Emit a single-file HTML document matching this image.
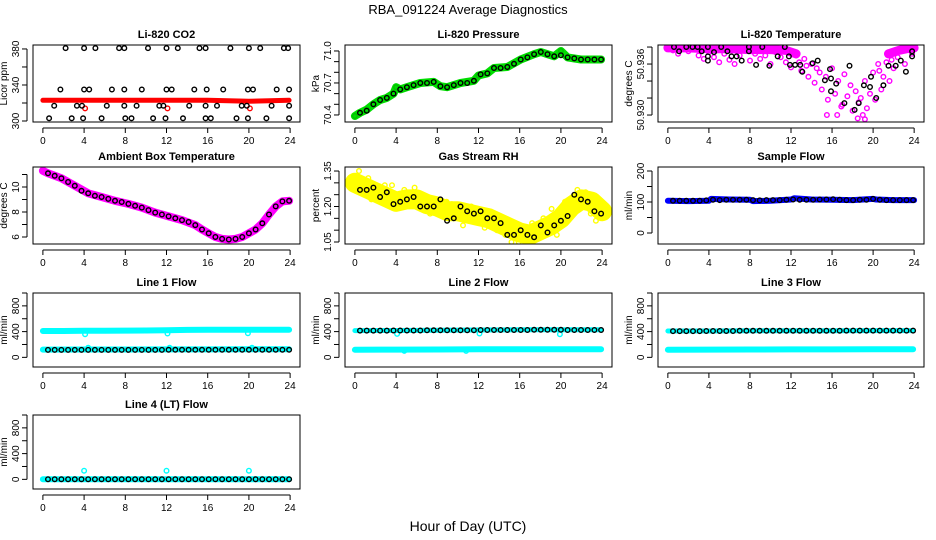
<!DOCTYPE html>
<html><head><meta charset="utf-8"><style>
html,body{margin:0;padding:0;background:#fff;}
svg{display:block;font-family:"Liberation Sans",sans-serif;}
</style></head><body>
<svg id="chart" width="936" height="540" viewBox="0 0 936 540" xmlns="http://www.w3.org/2000/svg">
<text x="468" y="14" font-size="13" text-anchor="middle">RBA_091224  Average Diagnostics</text>
<text x="468" y="531" font-size="14" text-anchor="middle">Hour of Day (UTC)</text>
</svg>
<script>
const hours = [0.5,1.15,1.8,2.45,3.1,3.75,4.4,5.05,5.7,6.35,7.0,7.65,8.3,8.95,9.6,10.25,10.9,11.55,12.2,12.85,13.5,14.15,14.8,15.45,16.1,16.75,17.4,18.05,18.7,19.35,20.0,20.65,21.3,21.95,22.6,23.25,23.9];
const xTicks = [0,4,8,12,16,20,24];

const co2Hours = [0.6,1.1,1.7,2.2,2.8,3.3,3.8,3.9,4.0,4.0,4.5,5.1,5.7,6.2,6.7,7.4,7.9,7.9,7.9,8.0,8.6,9.1,9.6,10.2,10.7,11.3,11.7,12.0,11.9,12.0,12.5,13.1,13.6,14.2,14.7,15.2,15.8,15.8,15.8,15.9,16.3,16.9,17.5,18.2,18.8,19.3,19.8,19.9,20.0,19.9,20.4,21.1,21.7,22.2,22.7,23.4,23.8,23.9,23.9,23.9];
const co2Vals = [303,317,335,381,303,317,317,303,381,335,335,381,303,317,335,381,381,335,317,303,303,317,335,381,303,317,317,381,303,335,335,381,303,317,335,381,381,303,317,335,303,317,335,381,303,317,317,303,381,335,335,381,303,317,335,381,381,335,317,303];
const co2RedHours = [0,4,8,12,16,20,23.9];
const co2RedVals = [323,323,323,323,323,322,323];
const co2DipHours = [4.1,12.1,20.1];
const co2DipVals = [314,314,314];

const pressVals = [70.42,70.44,70.50,70.54,70.56,70.60,70.64,70.66,70.68,70.70,70.70,70.71,70.67,70.66,70.68,70.70,70.70,70.72,70.78,70.79,70.84,70.84,70.85,70.88,70.92,70.94,70.97,70.99,70.97,70.95,70.96,70.94,70.93,70.92,70.92,70.92,70.92];
const pressBandHours = [0,0.5,1.15,1.8,2.45,3.1,3.75,4.0,4.4,5.05,6.35,7.65,8.3,8.95,10.25,11.55,12.0,12.85,13.5,14.8,16.1,17.4,18.05,18.7,19.35,20.0,20.65,21.95,23.25,23.9];
const pressBandVals = [70.39,70.42,70.45,70.50,70.54,70.56,70.60,70.66,70.64,70.66,70.70,70.71,70.67,70.66,70.70,70.72,70.77,70.79,70.84,70.85,70.92,70.97,70.99,70.97,70.95,71.00,70.94,70.92,70.92,70.92];

const tempBlackHours = [0.6,1.1,1.8,2.4,2.9,3.3,3.9,3.9,3.9,4.5,5.2,5.8,6.2,6.7,7.2,7.9,7.9,8.6,9.2,9.9,10.7,11.4,11.8,11.9,12.4,12.9,13.1,14.1,14.6,15.3,15.8,15.9,15.9,16.4,17.2,17.7,18.2,18.6,19.1,19.7,19.8,20.3,21.0,21.5,22.2,22.7,23.2,23.8,23.8];
const tempBlackVals = [50.9380,50.9375,50.9380,50.9380,50.9380,50.9375,50.9380,50.9369,50.9364,50.9374,50.9380,50.9375,50.9369,50.9369,50.9364,50.9380,50.9375,50.9359,50.9380,50.9358,50.9369,50.9380,50.9369,50.9359,50.9359,50.9359,50.9351,50.9361,50.9364,50.9341,50.9354,50.9343,50.9328,50.9337,50.9314,50.9358,50.9306,50.9314,50.9335,50.9333,50.9345,50.9320,50.9335,50.9358,50.9358,50.9364,50.9351,50.9375,50.9369];
const tempMagHours = [0.2,0.5,1,1.5,2,2.5,3,3.5,4,4.5,5,5.5,6,6.5,7,7.5,8,8.5,9,9.5,10,10.5,11,11.5,12,12.5,13,13.3,13.7,14,14.3,14.8,15,15.4,15.6,16,16.3,16.6,16.9,17.2,17.5,17.8,18,18.3,18.6,19,19.2,19.4,19.7,20,20.2,20.5,20.8,21,21.3,21.6,22,22.4,22.8,23.1,23.5,23.8,24,15.5,16.5,18.5,19.2,12.8,13.5,14.5,17,18.8,20.6,21.8];
const tempMagVals = [50.9380,50.9376,50.9372,50.9378,50.9375,50.9380,50.9370,50.9366,50.9374,50.9368,50.9362,50.9372,50.9365,50.9360,50.9370,50.9376,50.9364,50.9372,50.9366,50.9370,50.9360,50.9374,50.9368,50.9362,50.9356,50.9370,50.9352,50.9366,50.9345,50.9360,50.9338,50.9350,50.9330,50.9345,50.9318,50.9355,50.9325,50.9340,50.9310,50.9348,50.9322,50.9335,50.9305,50.9328,50.9315,50.9300,50.9340,50.9308,50.9325,50.9350,50.9318,50.9360,50.9330,50.9345,50.9362,50.9340,50.9355,50.9368,50.9375,50.9360,50.9380,50.9372,50.9378,50.9300,50.9300,50.9296,50.9295,50.9362,50.9358,50.9355,50.9312,50.9320,50.9352,50.9365];
const tempBandHours = [0,2,4,6,8,10,11.5,12.5];
const tempBandVals = [50.9379,50.9379,50.9378,50.9378,50.9377,50.9377,50.9376,50.9372];
const tempBand2Hours = [21.5,22.5,23.3,24];
const tempBand2Vals = [50.9372,50.9376,50.9378,50.9379];

const ambVals = [11.1,10.9,10.7,10.4,10.1,9.7,9.5,9.3,9.2,9.05,8.9,8.8,8.65,8.5,8.35,8.15,7.95,7.8,7.65,7.5,7.35,7.2,6.95,6.6,6.3,6.0,5.85,5.8,5.85,6.0,6.3,6.6,7.1,7.8,8.45,8.85,8.9];
const ambBandHours = [0,0.5,1.8,3.1,4.4,5.7,7.0,8.3,9.6,10.9,12.2,13.5,14.8,15.45,16.1,16.75,17.4,18.05,18.7,19.35,20.0,20.65,21.3,21.95,22.6,23.25,23.9];
const ambBandVals = [11.3,11.1,10.7,10.1,9.5,9.2,8.9,8.65,8.35,7.95,7.65,7.35,6.95,6.6,6.3,6.0,5.85,5.8,5.85,6.0,6.3,6.6,7.1,7.8,8.45,8.85,8.9];

const rhVals = [1.27,1.27,1.28,1.24,1.26,1.21,1.22,1.23,1.24,1.20,1.20,1.20,1.23,1.14,1.15,1.20,1.18,1.17,1.18,1.15,1.15,1.13,1.08,1.08,1.10,1.08,1.07,1.12,1.09,1.12,1.14,1.16,1.25,1.23,1.22,1.18,1.17];
const rhBandHours = [0,1,2,3,4,5,6,7,8,9,10,11,12,13,14,15,16,17,18,19,20,21,22,23,24];
const rhBandVals = [1.30,1.28,1.26,1.24,1.22,1.23,1.23,1.21,1.20,1.18,1.18,1.17,1.16,1.15,1.13,1.11,1.09,1.08,1.10,1.12,1.15,1.20,1.23,1.22,1.18];
const rhYellowHours = [0.2,0.4,0.9,1.3,1.6,2.9,3.6,4.8,5.8,6.5,7.3,8.9,9.4,10.5,11.3,12.6,13.8,14.6,15.2,15.9,16.3,17.2,18.3,19.1,19.6,20.4,21.6,22.4,22.9,23.4,23.7];
const rhYellowVals = [1.33,1.35,1.31,1.32,1.23,1.29,1.29,1.27,1.28,1.22,1.17,1.22,1.21,1.12,1.20,1.11,1.10,1.08,1.05,1.05,1.06,1.13,1.15,1.19,1.08,1.22,1.27,1.26,1.17,1.14,1.23];

const sampleVals = [104,104,104,104,104,105,107,106,107,107,107,107,106,105,106,106,106,107,108,107,107,107,108,108,109,107,106,106,107,107,110,107,106,106,106,106,106];
const sampleBandHours = [0,2,4,4.2,6,8,8.3,10,12,12.3,14,16,18,20,20.3,22,24];
const sampleBandVals = [104,103,104,110,108,107,103,104,108,112,108,107,106,110,108,106,106];

const line1Black = [115,115,115,115,115,115,115,115,115,115,115,116,116,116,116,116,116,116,117,117,117,117,117,117,117,117,117,117,117,117,117,117,117,117,117,117,117];
const line1HiHours = [0,2,4,6,8,10,12,14,16,18,20,22,23.9];
const line1HiVals = [410,410,412,414,415,418,422,426,428,428,430,430,430];
const line1LoHours = [0,4,8,12,16,20,23.9];
const line1LoVals = [120,122,122,124,124,125,125];
const line1DipHours = [4.1,12.1,19.9,4.4,12.3,20.3];
const line1DipVals = [360,370,375,150,150,150];

const line2Black = [415,415,415,415,415,418,418,418,418,418,420,420,420,420,420,420,420,422,425,425,425,425,425,425,425,425,428,428,428,428,428,425,425,425,425,425,425];
const line2HiHours = [0,4,8,12,16,20,23.9];
const line2HiVals = [415,418,420,425,428,430,430];
const line2LoHours = [0,4,8,12,16,20,23.9];
const line2LoVals = [118,120,122,125,125,125,125];
const line2DipHours = [4.1,12.1,19.9,4.8,10.8];
const line2DipVals = [365,370,360,100,100];

const line3Black = [408,408,408,408,408,410,410,410,410,410,412,412,412,412,412,412,412,414,414,414,414,414,414,414,414,414,415,415,415,415,415,415,415,415,415,415,415];
const line3HiHours = [0,4,8,12,16,20,23.9];
const line3HiVals = [410,410,412,414,414,415,415];
const line3LoHours = [0,4,8,12,16,20,23.9];
const line3LoVals = [118,120,122,124,124,125,125];

const line4Black = [3,3,3,3,3,3,3,3,3,3,3,3,3,3,3,3,3,3,3,3,3,3,3,3,3,3,3,3,3,3,3,3,3,3,3,3,3];
const line4CyanHours = [0,4,8,12,16,20,23.9];
const line4CyanVals = [3,3,3,3,3,3,3];
const line4OutHours = [4,12,20];
const line4OutVals = [135,135,135];

const flowTicks = [0,200,400,600,800,1000];
const flowLabels = ["0","","400","","800",""];

const NS = "http://www.w3.org/2000/svg";
const svg = document.getElementById('chart');
function mk(tag, attrs, parent){ const e=document.createElementNS(NS,tag); for(const k in attrs) e.setAttribute(k,attrs[k]); (parent||svg).appendChild(e); return e; }

const cols = [[33,300],[345,612],[658,924]];
const rows = [[45,122],[167,244],[293,367],[415,489]];

function makePanel(c, r, ylim, yticks, ylabels, title, ylab, key){
  const [bx0,bx1] = cols[c], [by0,by1] = rows[r];
  const g = mk('g',{});
  
  
  const sx = v => bx0 + (v+0.96)/25.92*(bx1-bx0);
  const sy = v => by1 - (v-ylim[0])/(ylim[1]-ylim[0])*(by1-by0);
  const clip = mk('clipPath',{id:'clip-'+key},g);
  mk('rect',{x:bx0,y:by0,width:bx1-bx0,height:by1-by0},clip);
  const plot = mk('g',{'clip-path':'url(#clip-'+key+')'},g);
  
  
  const box = mk('rect',{x:bx0,y:by0,width:bx1-bx0,height:by1-by0,fill:'none',stroke:'#000','stroke-width':1},g);
  
  
  const t = mk('text',{x:(bx0+bx1)/2,y:by0-7,'font-size':11,'font-weight':'bold','text-anchor':'middle'},g);
  t.textContent = title;
  
  
  const xa = mk('g',{},g);
  
  
  mk('line',{x1:sx(0),x2:sx(24),y1:by1+6,y2:by1+6,stroke:'#000'},xa);
  xTicks.forEach(v=>{
    mk('line',{x1:sx(v),x2:sx(v),y1:by1+6,y2:by1+11,stroke:'#000'},xa);
    const tl = mk('text',{x:sx(v),y:by1+22,'font-size':10,'text-anchor':'middle'},xa);
    tl.textContent = v;
    
    
  });
  const ya = mk('g',{},g);
  
  
  const yv = yticks.filter(v=>v>=ylim[0]-1e-9 && v<=ylim[1]+1e-9);
  mk('line',{x1:bx0-6,x2:bx0-6,y1:sy(yv[0]),y2:sy(yv[yv.length-1]),stroke:'#000'},ya);
  yticks.forEach((v,i)=>{
    if(v<ylim[0]-1e-9||v>ylim[1]+1e-9) return;
    mk('line',{x1:bx0-11,x2:bx0-6,y1:sy(v),y2:sy(v),stroke:'#000'},ya);
    if(ylabels[i]){
      const tl = mk('text',{x:0,y:0,'font-size':10,'text-anchor':'middle',transform:`translate(${bx0-14},${sy(v)}) rotate(-90)`},ya);
      tl.textContent = ylabels[i];
      
      
    }
  });
  const yt = mk('text',{x:0,y:0,'font-size':10,'text-anchor':'middle',transform:`translate(${bx0-26},${(by0+by1)/2}) rotate(-90)`},g);
  yt.textContent = ylab;
  
  
  return {plot,sx,sy};
}
function band(p, xs, ys, color, w, name){
  const pts = xs.map((x,i)=>p.sx(x).toFixed(1)+','+p.sy(ys[i]).toFixed(1)).join(' ');
  const l = mk('polyline',{points:pts,fill:'none',stroke:color,'stroke-width':w,'stroke-linecap':'round','stroke-linejoin':'round'},p.plot);
  
  
}
function pts(p, xs, ys, color, name, r){
  xs.forEach((x,i)=>{
    const c = mk('circle',{cx:p.sx(x).toFixed(1),cy:p.sy(ys[i]).toFixed(1),r:r||2.3,fill:'none',stroke:color,'stroke-width':1.4},p.plot);
    
    
  });
}

let p = makePanel(0,0,[298.9,384.4],[300,320,340,360,380],["300","","340","","380"],"Li-820 CO2","Licor ppm","co2");
band(p,co2RedHours,co2RedVals,'#ff0000',5,'co2-red-series');
pts(p,co2DipHours,co2DipVals,'#ff0000','co2-red-point');
pts(p,co2Hours,co2Vals,'#000','co2-black-point');

p = makePanel(1,0,[70.334,71.056],[70.4,70.5,70.6,70.7,70.8,70.9,71.0],["70.4","","","70.7","","","71.0"],"Li-820 Pressure","kPa","pressure");
band(p,pressBandHours,pressBandVals,'#00dd00',8,'pressure-green-series');
pts(p,pressBandHours,pressBandVals,'#00c000','pressure-green-point');
pts(p,hours,pressVals,'#000','pressure-black-point');

p = makePanel(2,0,[50.92918,50.93824],[50.930,50.932,50.934,50.936,50.938],["50.930","","","50.936",""],"Li-820 Temperature","degrees C","li820-temp");
band(p,tempBandHours,tempBandVals,'#ff00ff',9,'temp-magenta-band');
band(p,tempBand2Hours,tempBand2Vals,'#ff00ff',9,'temp-magenta-band-2');
pts(p,tempMagHours,tempMagVals,'#ff00ff','temp-magenta-point');
pts(p,tempBlackHours,tempBlackVals,'#000','temp-black-point');

p = makePanel(0,1,[5.44,11.6],[6,7,8,9,10,11],["6","","8","","10",""],"Ambient Box Temperature","degrees C","ambient");
band(p,ambBandHours,ambBandVals,'#ff00ff',8,'ambient-magenta-series');
pts(p,hours,ambVals,'#000','ambient-black-point');

p = makePanel(1,1,[1.0415,1.367],[1.05,1.10,1.15,1.20,1.25,1.30,1.35],["1.05","","","1.20","","","1.35"],"Gas Stream RH","percent","rh");
band(p,rhBandHours,rhBandVals,'#ffff00',20,'rh-yellow-band');
pts(p,rhYellowHours,rhYellowVals,'#ffff00','rh-yellow-point');
pts(p,hours,rhVals,'#000','rh-black-point');

p = makePanel(2,1,[-35.5,212.9],[0,50,100,150,200],["0","","100","","200"],"Sample Flow","ml/min","sample-flow");
band(p,sampleBandHours,sampleBandVals,'#0000ff',6,'sample-blue-series');
pts(p,hours,sampleVals,'#000','sample-black-point');

p = makePanel(0,2,[-150,1000],flowTicks,flowLabels,"Line 1 Flow","ml/min","line1");
band(p,line1HiHours,line1HiVals,'#00ffff',6,'line1-cyan-high');
band(p,line1LoHours,line1LoVals,'#00ffff',6,'line1-cyan-low');
pts(p,line1DipHours,line1DipVals,'#00ffff','line1-cyan-point');
pts(p,hours,line1Black,'#000','line1-black-point');

p = makePanel(1,2,[-150,1000],flowTicks,flowLabels,"Line 2 Flow","ml/min","line2");
band(p,line2HiHours,line2HiVals,'#00ffff',5,'line2-cyan-high');
band(p,line2LoHours,line2LoVals,'#00ffff',6,'line2-cyan-low');
pts(p,line2DipHours,line2DipVals,'#00ffff','line2-cyan-point');
pts(p,hours,line2Black,'#000','line2-black-point');

p = makePanel(2,2,[-150,1000],flowTicks,flowLabels,"Line 3 Flow","ml/min","line3");
band(p,line3HiHours,line3HiVals,'#00ffff',5,'line3-cyan-high');
band(p,line3LoHours,line3LoVals,'#00ffff',6,'line3-cyan-low');
pts(p,hours,line3Black,'#000','line3-black-point');

p = makePanel(0,3,[-150,1000],flowTicks,flowLabels,"Line 4 (LT) Flow","ml/min","line4");
band(p,line4CyanHours,line4CyanVals,'#00ffff',6,'line4-cyan-series');
pts(p,line4OutHours,line4OutVals,'#00ffff','line4-cyan-outlier');
pts(p,hours,line4Black,'#000','line4-black-point');
</script>
</body></html>
